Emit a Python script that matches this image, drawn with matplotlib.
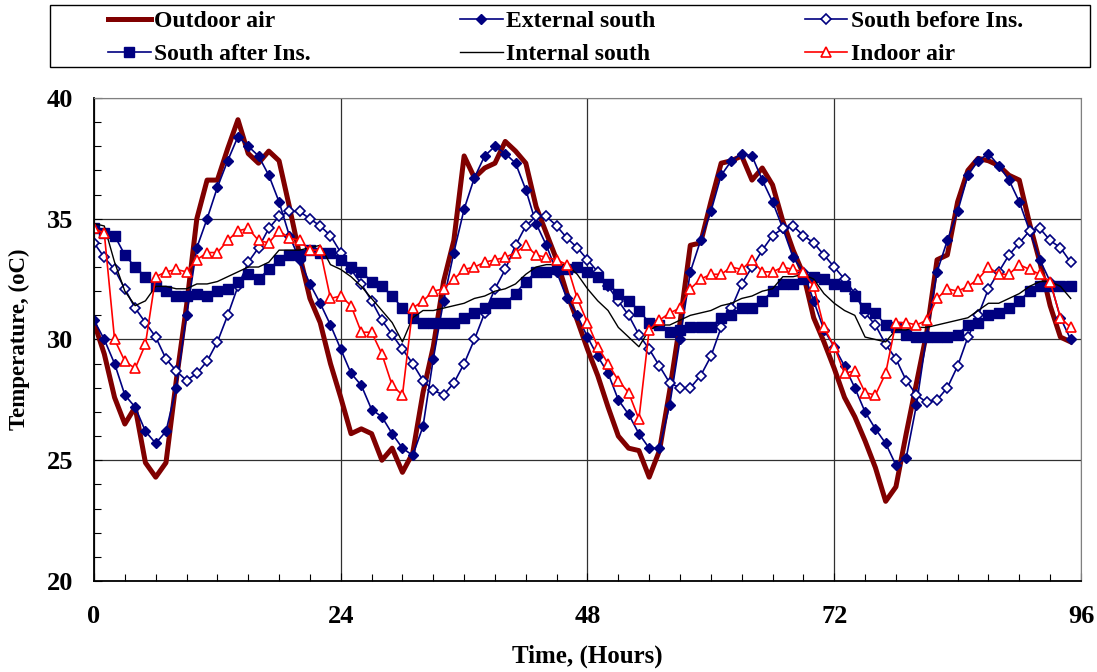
import matplotlib
matplotlib.use("Agg")
import matplotlib.pyplot as plt
from matplotlib.patches import Rectangle
from matplotlib.ticker import MultipleLocator

plt.rcParams['font.family'] = ['Liberation Serif', 'DejaVu Serif']
plt.rcParams['font.weight'] = 'bold'
plt.rcParams['axes.labelweight'] = 'bold'

hours = list(range(96))

outdoor = [30.7, 29.4, 27.6, 26.5, 27.2, 24.9, 24.3, 24.9, 28.3, 31.4,
           35.0, 36.6, 36.6, 37.9, 39.1, 37.7, 37.3, 37.8, 37.4, 35.5,
           33.5, 31.7, 30.7, 29.0, 27.6, 26.1, 26.3, 26.1, 25.0, 25.5,
           24.5, 25.3, 27.8, 29.7, 32.4, 34.1, 37.6, 36.7, 37.1, 37.3,
           38.2, 37.8, 37.3, 35.5, 34.4, 33.3, 31.9, 30.8, 29.6, 28.5,
           27.2, 26.0, 25.5, 25.4, 24.3, 25.4, 27.9, 30.7, 33.9, 34.0,
           35.7, 37.3, 37.4, 37.6, 36.6, 37.1, 36.4, 34.9, 33.7, 32.7,
           30.9, 29.9, 28.8, 27.6, 26.8, 25.8, 24.7, 23.3, 23.9, 26.1,
           28.2, 30.3, 33.3, 33.5, 35.7, 37.0, 37.5, 37.4, 37.2, 36.8,
           36.6, 34.8, 33.2, 31.4, 30.1, 29.9]

ext_south = [30.8, 30.0, 29.0, 27.7, 27.2, 26.2, 25.7, 26.2, 28.0, 31.0,
             33.8, 35.0, 36.3, 37.4, 38.4, 38.0, 37.6, 36.8, 35.7, 34.3,
             33.3, 32.3, 31.5, 30.6, 29.6, 28.6, 28.1, 27.1, 26.8, 26.1,
             25.5, 25.2, 26.4, 29.2, 31.6, 33.6, 35.4, 36.7, 37.6, 38.0,
             37.7, 37.3, 36.2, 34.8, 33.9, 32.8, 31.7, 31.0, 30.1, 29.3,
             28.6, 27.5, 26.9, 26.1, 25.5, 25.5, 27.3, 30.0, 32.8, 34.1,
             35.3, 36.8, 37.4, 37.7, 37.6, 36.6, 35.7, 34.6, 33.4, 32.8,
             31.6, 30.4, 29.7, 28.9, 28.0, 27.0, 26.3, 25.7, 24.8, 25.1,
             27.3, 30.2, 32.8, 34.1, 35.3, 36.8, 37.4, 37.7, 37.2, 36.6,
             35.7, 34.5, 33.3, 32.4, 30.9, 30.0]

south_before = [34.0, 33.4, 32.9, 32.1, 31.3, 30.7, 30.1, 29.2, 28.7, 28.3,
                28.6, 29.1, 29.9, 31.0, 32.2, 33.2, 33.8, 34.6, 35.1, 35.3,
                35.3, 35.0, 34.7, 34.3, 33.6, 32.9, 32.3, 31.6, 30.8, 30.2,
                29.6, 29.0, 28.3, 27.9, 27.7, 28.2, 29.0, 30.0, 31.1, 32.1,
                32.9, 33.9, 34.7, 35.1, 35.1, 34.7, 34.2, 33.8, 33.3, 32.8,
                32.2, 31.6, 31.0, 30.2, 29.6, 28.9, 28.2, 28.0, 28.0, 28.5,
                29.3, 30.5, 31.3, 32.3, 33.0, 33.7, 34.3, 34.6, 34.7, 34.3,
                34.0, 33.5, 33.0, 32.5, 31.9, 31.1, 30.6, 29.8, 29.2, 28.3,
                27.7, 27.4, 27.5, 28.0, 28.9, 30.1, 31.0, 32.1, 32.8, 33.5,
                34.0, 34.5, 34.6, 34.1, 33.8, 33.2]

south_after = [34.6, 34.4, 34.3, 33.5, 33.0, 32.6, 32.2, 32.0, 31.8, 31.8,
               31.9, 31.8, 32.0, 32.1, 32.4, 32.7, 32.5, 32.9, 33.3, 33.5,
               33.5, 33.7, 33.6, 33.6, 33.3, 33.0, 32.8, 32.4, 32.2, 31.8,
               31.3, 30.9, 30.7, 30.7, 30.7, 30.7, 30.9, 31.1, 31.3, 31.5,
               31.5, 31.9, 32.4, 32.8, 32.8, 32.9, 32.9, 33.0, 32.8, 32.6,
               32.3, 31.9, 31.6, 31.2, 30.7, 30.6, 30.3, 30.4, 30.5, 30.5,
               30.5, 30.9, 31.0, 31.3, 31.3, 31.6, 32.0, 32.3, 32.3, 32.5,
               32.6, 32.5, 32.3, 32.2, 31.8, 31.3, 31.1, 30.6, 30.5, 30.2,
               30.1, 30.1, 30.1, 30.1, 30.2, 30.6, 30.7, 31.0, 31.1, 31.3,
               31.6, 32.0, 32.2, 32.2, 32.2, 32.2]

int_south = [34.8, 34.7, 33.2, 32.0, 31.4, 31.6, 32.2, 32.2, 32.1, 32.1,
             32.3, 32.3, 32.4, 32.6, 32.8, 33.0, 33.0, 33.2, 33.7, 33.7,
             33.7, 33.8, 33.9, 33.1, 32.9, 32.6, 32.2, 31.7, 31.2, 30.7,
             29.9, 30.9, 31.2, 31.2, 31.3, 31.4, 31.5, 31.7, 31.8, 32.0,
             32.1, 32.3, 32.7, 33.0, 33.1, 33.1, 33.1, 32.7, 32.1, 31.6,
             31.2, 30.5, 30.1, 29.7, 30.4, 30.6, 30.6, 30.8, 31.0, 31.1,
             31.2, 31.4, 31.5, 31.7, 31.8, 32.0, 32.1, 32.6, 32.6, 32.7,
             32.5, 31.9, 31.5, 31.2, 31.0, 30.1, 30.0, 29.9, 30.4, 30.4,
             30.5, 30.5, 30.6, 30.7, 30.8, 30.9, 31.2, 31.5, 31.5, 31.7,
             31.9, 32.2, 32.4, 32.4, 32.2, 31.7]

indoor = [34.6, 34.4, 30.0, 29.1, 28.8, 29.8, 32.6, 32.8, 32.9, 32.8,
          33.3, 33.6, 33.6, 34.1, 34.5, 34.6, 34.1, 34.0, 34.5, 34.2,
          34.1, 33.7, 33.7, 31.7, 31.8, 31.4, 30.3, 30.3, 29.4, 28.1,
          27.7, 31.3, 31.6, 32.0, 32.1, 32.5, 32.9, 33.0, 33.2, 33.3,
          33.4, 33.6, 33.9, 33.5, 33.4, 33.3, 33.1, 31.7, 30.7, 29.7,
          29.0, 28.3, 27.8, 26.7, 30.4, 30.8, 31.1, 31.3, 32.1, 32.5,
          32.7, 32.7, 33.0, 32.9, 33.3, 32.8, 32.8, 33.0, 32.9, 32.8,
          32.2, 30.5, 29.7, 28.6, 28.7, 27.8, 27.7, 28.6, 30.7, 30.7,
          30.6, 30.8, 31.7, 32.1, 32.0, 32.2, 32.5, 33.0, 32.7, 32.7,
          33.1, 32.9, 32.7, 32.4, 30.9, 30.5]

fig = plt.figure(figsize=(10.97, 6.72), dpi=100)
ax = fig.add_axes([0.0857, 0.1354, 0.8997, 0.7188])

navy = '#000080'
l_out, = ax.plot(hours, outdoor, '-', color='#800000', lw=3.6, label='Outdoor air')
l_ext, = ax.plot(hours, ext_south, 'D-', color=navy, lw=1.2, ms=5.5,
                 markeredgecolor=navy, label='External south')
l_bef, = ax.plot(hours, south_before, 'D-', color=navy, lw=1.2, ms=5.5,
                 markerfacecolor='white', markeredgecolor=navy, markeredgewidth=1.2,
                 label='South before Ins.')
l_aft, = ax.plot(hours, south_after, 's-', color=navy, lw=1.2, ms=7,
                 markeredgecolor=navy, label='South after Ins.')
l_int, = ax.plot(hours, int_south, '-', color='black', lw=1.0, label='Internal south')
l_ind, = ax.plot(hours, indoor, '^-', color='red', lw=1.2, ms=7,
                 markerfacecolor='white', markeredgecolor='red', markeredgewidth=1.2,
                 label='Indoor air')

ax.set_xlim(0, 96)
ax.set_ylim(20, 40)
ax.xaxis.set_major_locator(MultipleLocator(24))
ax.xaxis.set_minor_locator(MultipleLocator(3))
ax.yaxis.set_major_locator(MultipleLocator(5))
ax.yaxis.set_minor_locator(MultipleLocator(1))
ax.tick_params(which='both', direction='in', labelsize=19)
ax.tick_params(which='minor', length=5, width=0.8)
ax.tick_params(which='major', length=6, width=0.8)
ax.tick_params(axis='x', which='major', pad=17)
ax.tick_params(axis='y', which='major', pad=15)
ax.grid(True, which='major', color='#303030', lw=0.9)
ax.set_axisbelow(True)
for side in ['top', 'right']:
    ax.spines[side].set_color('#808080')
for side in ['left', 'bottom']:
    ax.spines[side].set_linewidth(1.3)

ax.set_xlabel('Time, (Hours)', fontsize=18, labelpad=12)
ax.set_ylabel('Temperature, (oC)', fontsize=16.5, labelpad=12)

# legend frame drawn separately so the entries can sit inside with wide margins
fig.patches.append(Rectangle((50 / 1097, 1 - 67 / 672), 1040 / 1097, 62 / 672,
                             transform=fig.transFigure, fill=False,
                             edgecolor='black', lw=1.0))
handles = [l_out, l_aft, l_ext, l_int, l_bef, l_ind]
leg = fig.legend(handles=handles, loc='center left', ncol=3, mode='expand',
                 bbox_to_anchor=(108 / 1097, 1 - 38 / 672, 915 / 1097, 0),
                 fontsize=17, handlelength=1.8, handletextpad=0.15,
                 borderaxespad=0, labelspacing=0.5, borderpad=0,
                 frameon=False)

fig.savefig('out.png', dpi=100)
